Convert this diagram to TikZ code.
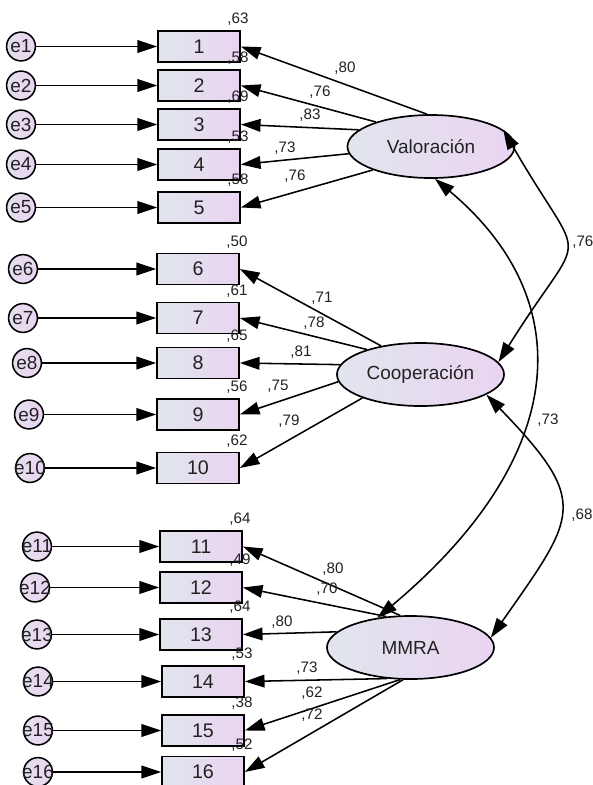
\documentclass[tikz,border=0pt]{standalone}
\usepackage{fontspec}
\setmainfont{Liberation Sans}
\usetikzlibrary{positioning, shapes.geometric, arrows.meta}

\begin{document}
\begin{tikzpicture}[x=0.025cm, y=0.025cm,
    item/.style={draw, line width=1.2pt, minimum width=2.05cm, minimum height=0.775cm, inner sep=0pt, left color=shadeleft, right color=shaderight, text=txtgray, font=\fontsize{14}{16}\selectfont},
    err/.style={draw, circle, line width=1.1pt, minimum size=0.72cm, inner sep=0pt, left color=shadeleft!60!shaderight, right color=shaderight, text=txtgray, font=\fontsize{13.5}{15}\selectfont},
    factor/.style={draw, ellipse, line width=1.2pt, minimum width=4.175cm, minimum height=1.575cm, inner sep=0pt, left color=shadeleft, right color=shaderight, text=txtgray, font=\fontsize{13.5}{15}\selectfont},
    load/.style={-{Triangle[length=14pt, width=9pt]}, line width=1.1pt},
    cov/.style={{Triangle[length=14pt, width=9pt]}-{Triangle[length=14pt, width=9pt]}, line width=1.1pt},
    coef/.style={inner sep=0pt, text=txtgray, font=\fontsize{10.8}{12}\selectfont}
]

    % Define colors
    \definecolor{shadeleft}{HTML}{E1E5ED}
    \definecolor{shaderight}{HTML}{EAD4F1}
    \definecolor{txtgray}{HTML}{222222}

    \useasboundingbox (0,0) rectangle (593,-785);

    % Items with their error terms
    \foreach \i/\ex/\bx/\by in {1/21/199/46.5, 2/21/199/85.5, 3/21/199/124.5, 4/21/199/164.5, 5/21/199/207.5,
                                6/23/198/269, 7/23/198/318, 8/27/198/363, 9/29/198/414.5, 10/30/198/468,
                                11/37/201/546.5, 12/35/201/587.5, 13/37/201/634.5, 14/38/203/681.5, 15/38/203/730.5, 16/38/203/772} {
        \node[item] (b\i) at (\bx,-\by) {\i};
        \node[err] (e\i) at (\ex,-\by) {\makebox[0pt]{e\i}};
        \draw[load] (e\i) -- (b\i);
    }

    % Squared multiple correlations
    \foreach \i/\r in {1/63, 2/58, 3/69, 4/53, 5/58, 6/50, 7/61, 8/65, 9/56, 10/62,
                       11/64, 12/49, 13/64, 14/53, 15/38, 16/52} {
        \node[coef, anchor=base] (r\i) at ([xshift=-2pt, yshift=4.5pt]b\i.north east) {,\r};
    }

    % Latent factors
    \node[factor] (val) at (431,-146.5) {Valoración};
    \node[factor] (coop) at (420.5,-374.5) {Cooperación};
    \node[factor] (mmra) at (410.5,-647.5) {MMRA};

    % Loadings
    \foreach \a/\b in {97/1, 156/2, 167/3, 185/4, 202/5}
        \draw[load] (val.\a) -- (b\b.east);
    \foreach \a/\b in {144/6, 155/7, 173/8, 185/9, 202/10}
        \draw[load] (coop.\a) -- (b\b.east);
    \foreach \a/\b in {108/11, 128/12, 168/13, 233/14, 252/15, 257/16}
        \draw[load] (mmra.\a) -- (b\b.east);

    % Loading values
    \foreach \n/\x/\y/\v in {l1/345/68/80, l2/320/92/76, l3/310/115/83, l4/285/148/73, l5/295/176/76,
                             l6/322/298/71, l7/314/323/78, l8/301/352/81, l9/278/386/75, l10/289/421/79,
                             l11/333/569/80, l12/327/589/70, l13/282/622/80, l14/307/668/73, l15/312/693/62, l16/312/715/72} {
        \node[coef] (\n) at (\x,-\y) {,\v};
    }

    % Correlations between factors
    \draw[cov] (val.13) .. controls +(-60:168) and +(58:168) .. (coop.9);
    \draw[cov] (val.277) .. controls +(-40:190) and +(40:250) .. (mmra.138);
    \draw[cov] (coop.343) .. controls +(-46:150) and +(55:150) .. (mmra.7);
    \node[coef, anchor=west] (c1) at (572,-242) {,76};
    \node[coef] (c2) at (548,-420) {,73};
    \node[coef] (c3) at (582,-515) {,68};

\end{tikzpicture}
\end{document}
